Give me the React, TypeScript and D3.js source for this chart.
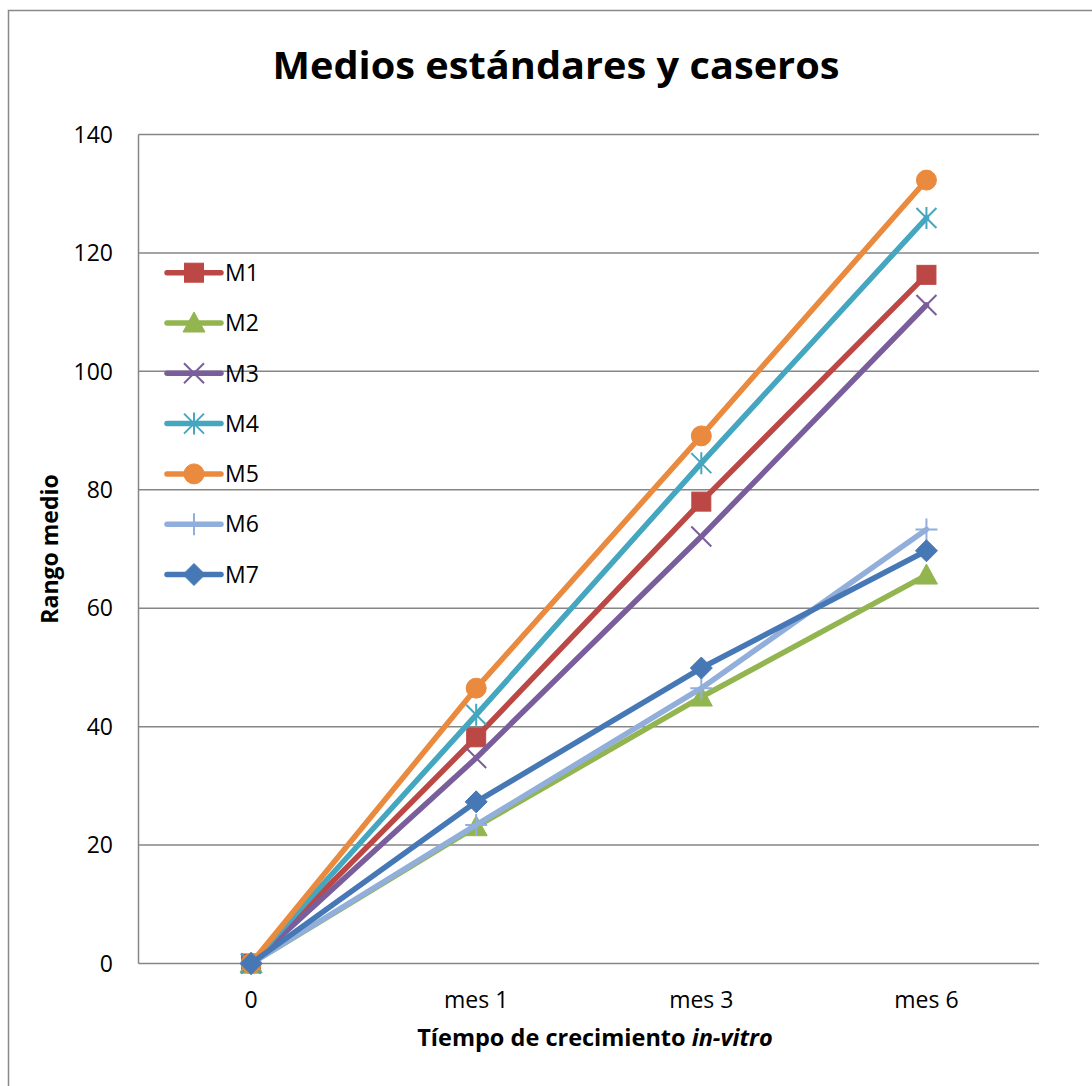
import React, { useEffect, useRef } from "react";
import * as d3 from "d3";

const categories = ["0", "mes 1", "mes 3", "mes 6"];
const seriesNames = ["M1", "M2", "M3", "M4", "M5", "M6", "M7"];
const m1 = [0, 38.2, 78.0, 116.3];
const m2 = [0, 23.1, 45.0, 65.6];
const m3 = [0, 34.7, 72.1, 111.2];
const m4 = [0, 42.0, 84.5, 125.9];
const m5 = [0, 46.5, 89.1, 132.3];
const m6 = [0, 23.4, 46.5, 73.3];
const m7 = [0, 27.3, 49.9, 69.7];
const yTicks = [0, 20, 40, 60, 80, 100, 120, 140];
const colors = ["#BC4845", "#93B550", "#7A5E9C", "#44A6BF", "#EA8A3E", "#92AEDA", "#4678B6"];
const markerTypes = ["square", "triangle", "x", "star", "circle", "plus", "diamond"];

const seriesValues = [m1, m2, m3, m4, m5, m6, m7];

const W = 1092;
const H = 1086;
const plot = { left: 138.5, right: 1039, top: 134.5, bottom: 963.5 };
const FONT = "'Open Sans', 'DejaVu Sans', sans-serif";

function drawMarker(g: any, type: string, x: number, y: number, color: string) {
  const s = 10;
  if (type === "square") {
    g.append("rect").attr("x", x - 9.5).attr("y", y - 9.5).attr("width", 19).attr("height", 19)
      .attr("fill", color).attr("stroke", color).attr("stroke-width", 1);
  } else if (type === "triangle") {
    g.append("path")
      .attr("d", `M${x},${y - 11}L${x + 11},${y + 9}L${x - 11},${y + 9}Z`)
      .attr("fill", color).attr("stroke", color).attr("stroke-width", 1);
  } else if (type === "circle") {
    g.append("circle").attr("cx", x).attr("cy", y).attr("r", 10)
      .attr("fill", color).attr("stroke", color).attr("stroke-width", 1);
  } else if (type === "diamond") {
    g.append("path")
      .attr("d", `M${x},${y - 11}L${x + 11},${y}L${x},${y + 11}L${x - 11},${y}Z`)
      .attr("fill", color).attr("stroke", color).attr("stroke-width", 1);
  } else if (type === "x") {
    g.append("path")
      .attr("d", `M${x - s},${y - s}L${x + s},${y + s}M${x + s},${y - s}L${x - s},${y + s}`)
      .attr("stroke", color).attr("stroke-width", 2).attr("fill", "none");
  } else if (type === "star") {
    g.append("path")
      .attr("d", `M${x - s},${y - s}L${x + s},${y + s}M${x + s},${y - s}L${x - s},${y + s}M${x},${y - s - 1}L${x},${y + s + 1}`)
      .attr("stroke", color).attr("stroke-width", 2).attr("fill", "none");
  } else if (type === "plus") {
    g.append("path")
      .attr("d", `M${x - s - 1},${y}L${x + s + 1},${y}M${x},${y - s - 1}L${x},${y + s + 1}`)
      .attr("stroke", color).attr("stroke-width", 2).attr("fill", "none");
  }
}

export default function App() {
  const ref = useRef<SVGSVGElement | null>(null);

  useEffect(() => {
    const svg = d3.select(ref.current);
    svg.selectAll("*").remove();

    svg.append("rect").attr("width", W).attr("height", H).attr("fill", "#ffffff");
    // chart area frame
    svg.append("rect").attr("x", 8.5).attr("y", 10.5).attr("width", 1200).attr("height", 1200)
      .attr("fill", "none").attr("stroke", "#898989").attr("stroke-width", 1.5);

    const x = d3.scalePoint<string>().domain(categories).range([plot.left, plot.right]).padding(0.5);
    const y = d3.scaleLinear().domain([0, 140]).range([plot.bottom, plot.top]);

    // gridlines
    const grid = svg.append("g");
    yTicks.forEach((t) => {
      grid.append("line").attr("x1", plot.left).attr("x2", plot.right)
        .attr("y1", y(t)).attr("y2", y(t))
        .attr("stroke", "#868686").attr("stroke-width", 1.5);
    });
    grid.append("line").attr("x1", plot.left).attr("x2", plot.left)
      .attr("y1", plot.top).attr("y2", plot.bottom)
      .attr("stroke", "#868686").attr("stroke-width", 1.5);

    // y tick labels
    yTicks.forEach((t) => {
      svg.append("text").attr("x", 113).attr("y", y(t)).attr("dy", "0.36em")
        .attr("text-anchor", "end").attr("font-family", FONT).attr("font-size", 23)
        .attr("fill", "#000").text(String(t));
    });

    // x tick labels
    categories.forEach((c) => {
      svg.append("text").attr("x", x(c)!).attr("y", 1007.5)
        .attr("text-anchor", "middle").attr("font-family", FONT).attr("font-size", 23)
        .attr("fill", "#000").text(c);
    });

    // series
    const line = d3.line<number>().x((_, i) => x(categories[i])!).y((d) => y(d));
    seriesValues.forEach((vals, si) => {
      const g = svg.append("g");
      g.append("path").attr("d", line(vals)!).attr("fill", "none")
        .attr("stroke", colors[si]).attr("stroke-width", 5.5)
        .attr("stroke-linejoin", "round").attr("stroke-linecap", "round");
      vals.forEach((v, i) => drawMarker(g, markerTypes[si], x(categories[i])!, y(v), colors[si]));
    });

    // legend
    const lg = svg.append("g");
    seriesNames.forEach((name, i) => {
      const ly = 272.7 + i * 50.3;
      lg.append("line").attr("x1", 167).attr("x2", 221).attr("y1", ly).attr("y2", ly)
        .attr("stroke", colors[i]).attr("stroke-width", 5.5).attr("stroke-linecap", "round");
      drawMarker(lg, markerTypes[i], 194, ly, colors[i]);
      lg.append("text").attr("x", 225).attr("y", ly).attr("dy", "0.36em")
        .attr("font-family", FONT).attr("font-size", 23).attr("fill", "#000").text(name);
    });

    // title
    svg.append("text").attr("x", 556).attr("y", 79).attr("text-anchor", "middle")
      .attr("font-family", FONT).attr("font-weight", "bold").attr("font-size", 37)
      .attr("textLength", 567).attr("lengthAdjust", "spacingAndGlyphs")
      .attr("fill", "#000").text("Medios estándares y caseros");

    // y axis title
    svg.append("text").attr("transform", "translate(58,549) rotate(-90)")
      .attr("text-anchor", "middle").attr("font-family", FONT).attr("font-weight", "bold")
      .attr("font-size", 23).attr("fill", "#000").text("Rango medio");

    // x axis title
    const xt = svg.append("text").attr("x", 595).attr("y", 1046).attr("text-anchor", "middle")
      .attr("font-family", FONT).attr("font-weight", "bold").attr("font-size", 23.5).attr("fill", "#000");
    xt.append("tspan").text("Tíempo de crecimiento ");
    xt.append("tspan").attr("font-style", "italic").text("in-vitro");
  }, []);

  return (
    <svg ref={ref} width={W} height={H}
      style={{ position: "absolute", left: 0, top: 0, display: "block" }} />
  );
}
